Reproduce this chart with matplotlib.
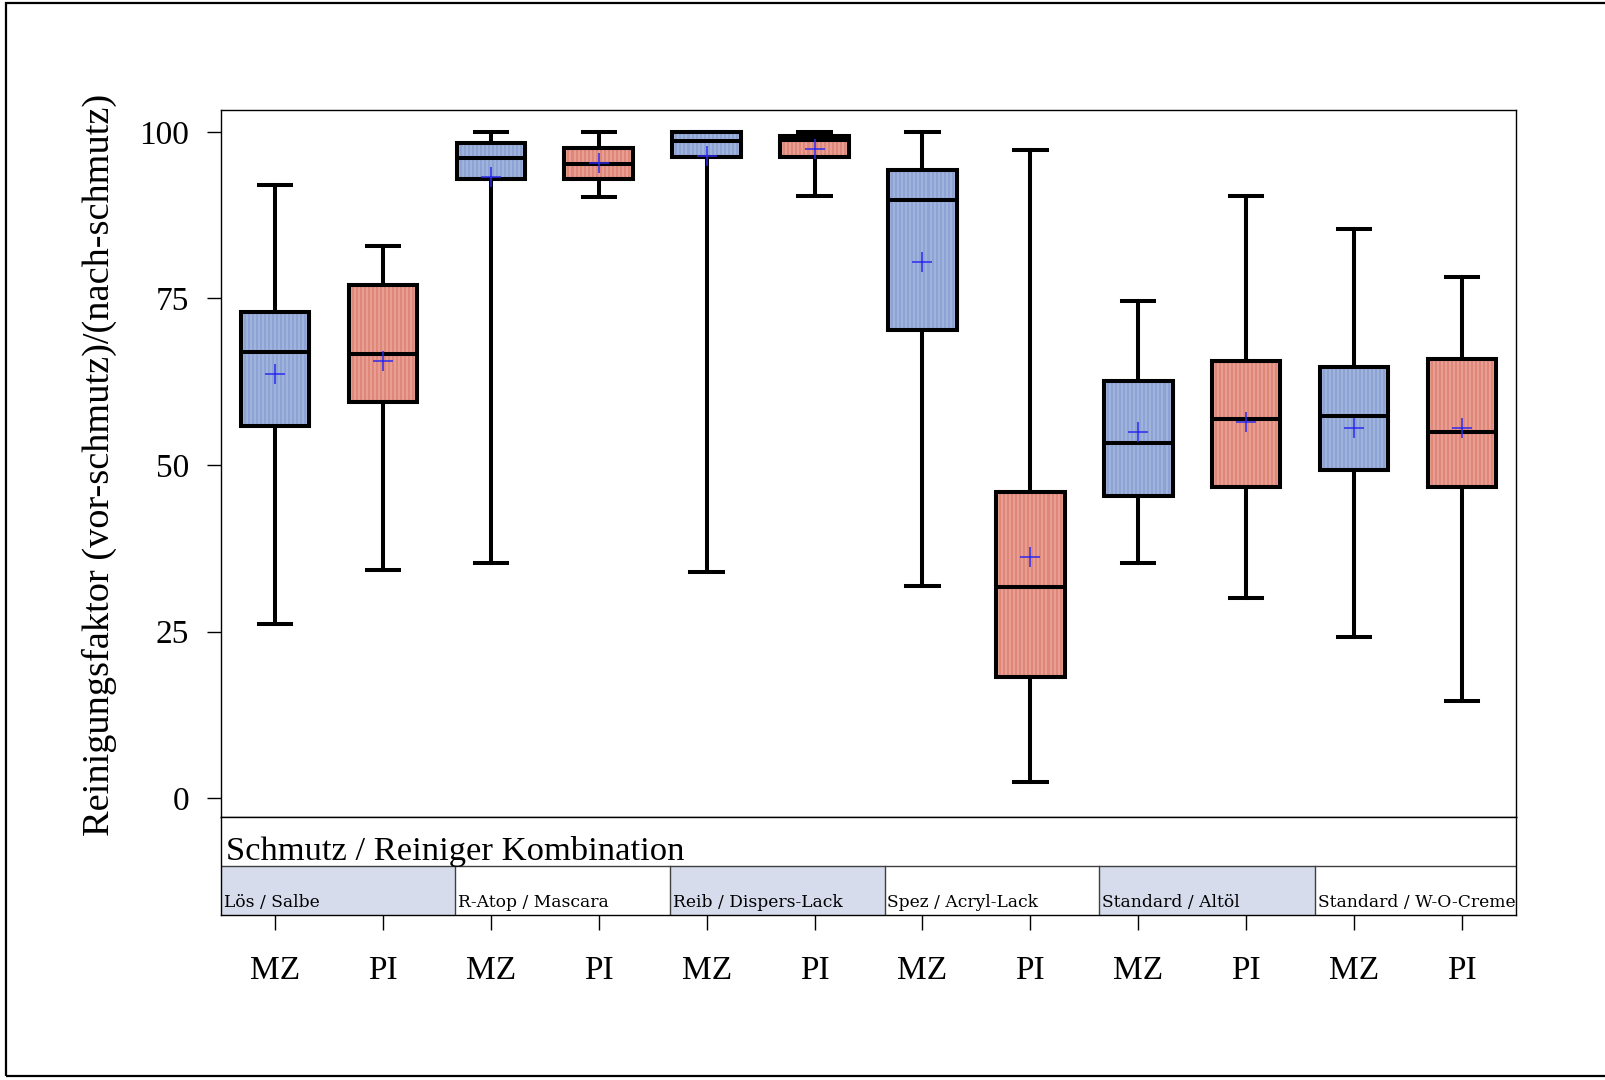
import matplotlib
matplotlib.use("Agg")
import matplotlib.pyplot as plt
from matplotlib.patches import PathPatch, Rectangle

# Groups (dirt / cleaner combination) and products per box
combos = ["Lös / Salbe", "R-Atop / Mascara", "Reib / Dispers-Lack",
          "Spez / Acryl-Lack", "Standard / Altöl", "Standard / W-O-Creme"]
products = ["MZ", "PI", "MZ", "PI", "MZ", "PI", "MZ", "PI", "MZ", "PI", "MZ", "PI"]

# Box statistics per box (in the order of `products`)
whislo = [26.2, 34.2, 35.3, 90.3, 33.9, 90.4, 31.9, 2.4, 35.3, 30.0, 24.2, 14.5]
q1     = [55.9, 59.5, 92.9, 92.9, 96.2, 96.2, 70.3, 18.2, 45.3, 46.7, 49.3, 46.7]
med    = [66.9, 66.6, 96.1, 95.2, 98.7, 98.8, 89.8, 31.7, 53.3, 56.9, 57.3, 54.9]
mean   = [63.6, 65.6, 93.2, 95.3, 96.4, 97.5, 80.5, 36.2, 54.9, 56.4, 55.6, 55.6]
q3     = [72.9, 77.0, 98.3, 97.6, 100.0, 99.4, 94.3, 46.0, 62.6, 65.6, 64.7, 65.9]
whishi = [92.1, 82.9, 100.0, 100.0, 100.0, 100.0, 100.0, 97.3, 74.6, 90.4, 85.5, 78.3]

yticks = [0, 25, 50, 75, 100]
combo_edges = [-0.5, 1.67, 3.66, 5.65, 7.64, 9.64, 11.5]

SERIF = ["Liberation Serif", "DejaVu Serif"]
fill = {"MZ": "#8DA3D4", "PI": "#DF8778"}
stripe = {"MZ": "#A3B5DF", "PI": "#E9A195"}

W, H = 1606, 1080
fig = plt.figure(figsize=(W / 100, H / 100), dpi=100)

# outer frame
fig.patches.append(Rectangle((6 / W, 4 / H), 1.2, 1 - 7 / H, transform=fig.transFigure,
                             fill=False, edgecolor="black", linewidth=1.6))

ax = fig.add_axes([221 / W, 1 - 817 / H, 1295 / W, 707 / H])
strip = fig.add_axes([221 / W, 1 - 915 / H, 1295 / W, 98 / H])

positions = list(range(len(products)))
stats = []
for i in positions:
    stats.append(dict(whislo=whislo[i], q1=q1[i], med=med[i], mean=mean[i],
                      q3=q3[i], whishi=whishi[i], fliers=[]))

bw = 0.635
lw = 2.9
res = ax.bxp(stats, positions=positions, widths=bw, capwidths=0.3,
             patch_artist=True, showmeans=True, showfliers=False,
             boxprops=dict(linewidth=lw, edgecolor="black"),
             whiskerprops=dict(linewidth=lw, color="black"),
             capprops=dict(linewidth=lw, color="black"),
             medianprops=dict(linewidth=lw, color="black"),
             meanprops=dict(marker="+", markeredgecolor="#2B2BF0",
                            markersize=15, markeredgewidth=1.1))

nstripes = 17
for i, box in enumerate(res["boxes"]):
    p = products[i]
    box.set_facecolor(fill[p])
    box.set_zorder(2)
    # vertical pinstripes inside the box
    xs = [positions[i] - bw / 2 + (k + 0.5) * bw / nstripes for k in range(nstripes)]
    vl = ax.vlines(xs, q1[i], q3[i], colors=stripe[p], linewidth=1.3, zorder=2.2)
    vl.set_clip_path(box)
    ax.add_patch(PathPatch(box.get_path(), facecolor="none", edgecolor="black",
                           linewidth=lw, zorder=2.6))
for m in res["medians"]:
    m.set_zorder(2.8)
for m in res["means"]:
    m.set_zorder(3)
for l in res["whiskers"] + res["caps"]:
    l.set_zorder(1.5)

ax.set_xlim(-0.5, 11.5)
ax.set_ylim(-2.85, 103.3)
ax.set_xticks([])
ax.set_yticks(yticks)
ax.set_yticklabels([str(t) for t in yticks], fontfamily=SERIF, fontsize=24)
ax.tick_params(axis="y", direction="out", length=10, width=1, pad=13)
for s in ax.spines.values():
    s.set_linewidth(1.0)

fig.text(99 / W, 1 - 465 / H, "Reinigungsfaktor (vor-schmutz)/(nach-schmutz)",
         rotation=90, ha="center", va="center", fontfamily=SERIF, fontsize=27.6)

# category strip below the plot
strip.set_xlim(-0.5, 11.5)
strip.set_ylim(0, 2)
for k, name in enumerate(combos):
    x0, x1 = combo_edges[k], combo_edges[k + 1]
    if k % 2 == 0:
        strip.add_patch(Rectangle((x0, 0), x1 - x0, 1, facecolor="#D6DCEC",
                                  edgecolor="none", zorder=0))
    if k > 0:
        strip.plot([x0, x0], [0, 1], color="#404040", linewidth=1.0)
    strip.text(x0 + 0.025, 0.17, name, ha="left", va="baseline",
               fontfamily=["DejaVu Serif"], fontsize=12.3)
strip.axhline(1, color="#404040", linewidth=1.0)
strip.text(-0.45, 1.13, "Schmutz / Reiniger Kombination", ha="left", va="baseline",
           fontfamily=SERIF, fontsize=24.8)
strip.set_yticks([])
strip.set_xticks(positions)
strip.set_xticklabels(products, fontfamily=SERIF, fontsize=24)
strip.tick_params(axis="x", direction="out", length=11, width=1, pad=18)
for s in strip.spines.values():
    s.set_linewidth(1.0)

fig.savefig("out.png", dpi=100)
